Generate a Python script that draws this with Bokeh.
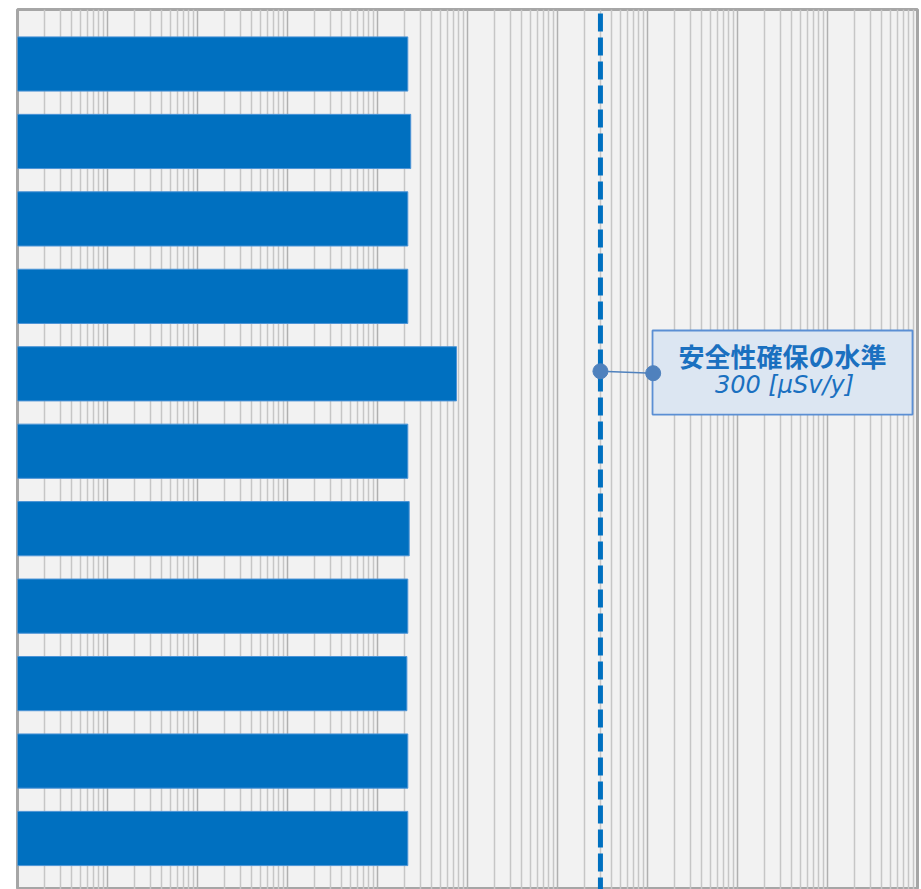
from bokeh.plotting import figure
from bokeh.models import Range1d, FixedTicker, Span, BoxAnnotation, Label, ColumnDataSource
from bokeh.embed import file_html
from bokeh.resources import INLINE

# ---- data ----
rows = [1, 2, 3, 4, 5, 6, 7, 8, 9, 10, 11]
values = [2.17, 2.34, 2.17, 2.17, 7.55, 2.17, 2.25, 2.17, 2.12, 2.17, 2.17]
x_start, x_end = 1e-4, 1e6
major_ticks = [10.0 ** k for k in range(-4, 7)]
minor_ticks = [m * 10.0 ** k for k in range(-4, 6) for m in range(2, 10)]

safety_level = 300
note_line1 = "安全性確保の水準"
note_line2 = "300 [μSv/y]"

# ---- figure ----
p = figure(width=921, height=889, x_axis_type="log",
           x_range=Range1d(x_start, x_end), y_range=Range1d(11.6585, 0.2963),
           output_backend="svg", toolbar_location=None,
           min_border_left=17, min_border_right=4, min_border_top=9, min_border_bottom=0)
p.background_fill_color = "#f2f2f2"
p.border_fill_color = "white"
p.outline_line_color = "#a6a6a6"
p.outline_line_width = 3

ticker = FixedTicker(ticks=major_ticks, minor_ticks=minor_ticks)
p.xaxis.ticker = ticker
p.xaxis.visible = False
p.yaxis.visible = False
p.xgrid.ticker = ticker
p.xgrid.grid_line_color = "#b0b0b0"
p.xgrid.grid_line_width = 1.5
p.xgrid.minor_grid_line_color = "#c6c6c6"
p.xgrid.minor_grid_line_width = 1.5
p.ygrid.visible = False

src = ColumnDataSource(dict(y=rows, right=values, left=[x_start] * len(rows)))
p.hbar(y="y", left="left", right="right", height=0.7, source=src,
       fill_color="#0070c0", line_color="#4d94d6", line_width=1)

# dashed reference line
p.add_layout(Span(location=safety_level, dimension="height", line_color="#0070c0",
                  line_width=5, line_dash="18 6", line_dash_offset=20))

# callout box
p.add_layout(BoxAnnotation(left=1137, right=8.8e5, top=4.441, bottom=5.526,
                           fill_color="#dce6f2", fill_alpha=1.0,
                           line_color="#5b8fd4", line_alpha=1.0, line_width=1.8))

# connector
p.line(x=[safety_level, 1156], y=[4.967, 4.992], line_color="#4f81bd", line_width=1.5,
       level="overlay")
p.scatter(x=[safety_level, 1156], y=[4.967, 4.992], size=15, fill_color="#4f81bd",
          line_color="#4f81bd", level="overlay")

p.add_layout(Label(x=31623, y=4.764, text=note_line1, text_align="center",
                   text_baseline="middle", text_font="Noto Sans CJK JP",
                   text_font_style="bold", text_font_size="26px", text_color="#1a70c0",
                   level="overlay"))
p.add_layout(Label(x=33266, y=5.145, text=note_line2, text_align="center",
                   text_baseline="middle", text_font="DejaVu Sans",
                   text_font_style="italic", text_font_size="24px", text_color="#1a70c0",
                   level="overlay"))

open("out.html", "w").write(file_html(p, INLINE))
